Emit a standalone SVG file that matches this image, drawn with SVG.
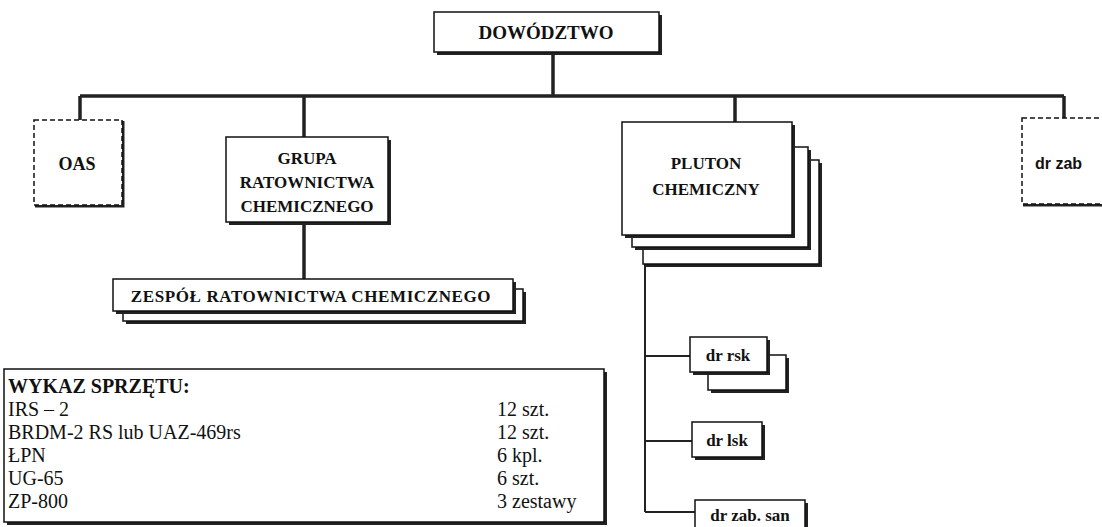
<svg xmlns="http://www.w3.org/2000/svg" width="1102" height="527" viewBox="0 0 1102 527">
<style>
.box{fill:#fff;stroke:#111;stroke-width:1.5}
.dash{fill:#fff;stroke:#111;stroke-width:1.5;stroke-dasharray:5 3}
.sh{fill:#222}
.shl{fill:none;stroke:#222;stroke-width:3}
.ln{fill:none;stroke:#222;stroke-width:3.5}
.lt{fill:none;stroke:#222;stroke-width:2}
.t{font-family:"Liberation Serif",serif;font-weight:bold;fill:#111;text-anchor:middle}
.ts{font-family:"Liberation Sans",sans-serif;font-weight:bold;fill:#111}
.tr{font-family:"Liberation Serif",serif;fill:#111;font-size:20px}
</style>
<rect width="1102" height="527" fill="#fff"/>
<g id="connectors">
<path class="ln" d="M553 53V96M80 96H1064M80 96V120M304 96V137M735 96V122M1064 96V118"/>
<path class="ln" d="M304 222V279"/>
<path class="lt" d="M645 264V512M645 356H690M645 441H692M645 512H695"/>
</g>
<g id="dowodztwo">
<rect class="sh" x="437" y="15" width="225" height="40"/>
<rect class="box" x="434" y="12" width="225" height="40"/>
<text class="t" x="546" y="39" font-size="19">DOWÓDZTWO</text>
</g>
<g id="oas">
<path class="shl" d="M123 121V206H35"/>
<rect class="dash" x="34" y="120" width="88" height="85"/>
<text class="t" x="77" y="170" font-size="18">OAS</text>
</g>
<g id="grupa">
<rect class="sh" x="229" y="140" width="162" height="85"/>
<rect class="box" x="226" y="137" width="162" height="85"/>
<text class="t" x="307" y="164" font-size="17">GRUPA</text>
<text class="t" x="307" y="188" font-size="17">RATOWNICTWA</text>
<text class="t" x="307" y="212" font-size="17">CHEMICZNEGO</text>
</g>
<g id="zespol">
<rect class="sh" x="126" y="292" width="400" height="32"/>
<rect class="box" x="123" y="289" width="400" height="32"/>
<rect class="sh" x="116" y="282" width="400" height="32"/>
<rect class="box" x="113" y="279" width="400" height="32"/>
<text class="t" x="311" y="302" font-size="17" letter-spacing="0.6">ZESPÓŁ RATOWNICTWA CHEMICZNEGO</text>
</g>
<g id="pluton">
<rect class="sh" x="646" y="163" width="176" height="104"/>
<rect class="box" x="643" y="160" width="176" height="104"/>
<rect class="sh" x="635" y="150" width="176" height="100"/>
<rect class="box" x="632" y="147" width="176" height="100"/>
<rect class="sh" x="625" y="125" width="170" height="113"/>
<rect class="box" x="622" y="122" width="170" height="113"/>
<text class="t" x="706" y="169" font-size="17">PLUTON</text>
<text class="t" x="706" y="195" font-size="17">CHEMICZNY</text>
</g>
<g id="dr-zab">
<path class="shl" d="M1023 205H1102"/>
<rect class="dash" x="1022" y="118" width="100" height="86"/>
<text class="ts" x="1035" y="169" font-size="16">dr zab</text>
</g>
<g id="wykaz">
<rect class="sh" x="7" y="372" width="600" height="153"/>
<rect class="box" x="4" y="369" width="600" height="153"/>
<text class="t" x="8" y="393" font-size="20" style="text-anchor:start">WYKAZ SPRZĘTU:</text>
<text class="tr" x="8" y="416">IRS – 2</text>
<text class="tr" x="8" y="439">BRDM-2 RS lub UAZ-469rs</text>
<text class="tr" x="8" y="462">ŁPN</text>
<text class="tr" x="8" y="485">UG-65</text>
<text class="tr" x="8" y="508">ZP-800</text>
<text class="tr" x="497" y="416">12 szt.</text>
<text class="tr" x="497" y="439">12 szt.</text>
<text class="tr" x="497" y="462">6 kpl.</text>
<text class="tr" x="497" y="485">6 szt.</text>
<text class="tr" x="497" y="508">3 zestawy</text>
</g>
<g id="dr-rsk">
<rect class="sh" x="711" y="358" width="78" height="35"/>
<rect class="box" x="708" y="355" width="78" height="35"/>
<rect class="sh" x="693" y="340" width="77" height="35"/>
<rect class="box" x="690" y="337" width="77" height="35"/>
<text class="t" x="728" y="361" font-size="17">dr rsk</text>
</g>
<g id="dr-lsk">
<rect class="sh" x="695" y="425" width="70" height="35"/>
<rect class="box" x="692" y="422" width="70" height="35"/>
<text class="t" x="727" y="446" font-size="17">dr lsk</text>
</g>
<g id="dr-zab-san">
<rect class="sh" x="698" y="503" width="110" height="30"/>
<rect class="box" x="695" y="500" width="110" height="30"/>
<text class="t" x="750" y="521" font-size="17">dr zab. san</text>
</g>
</svg>
